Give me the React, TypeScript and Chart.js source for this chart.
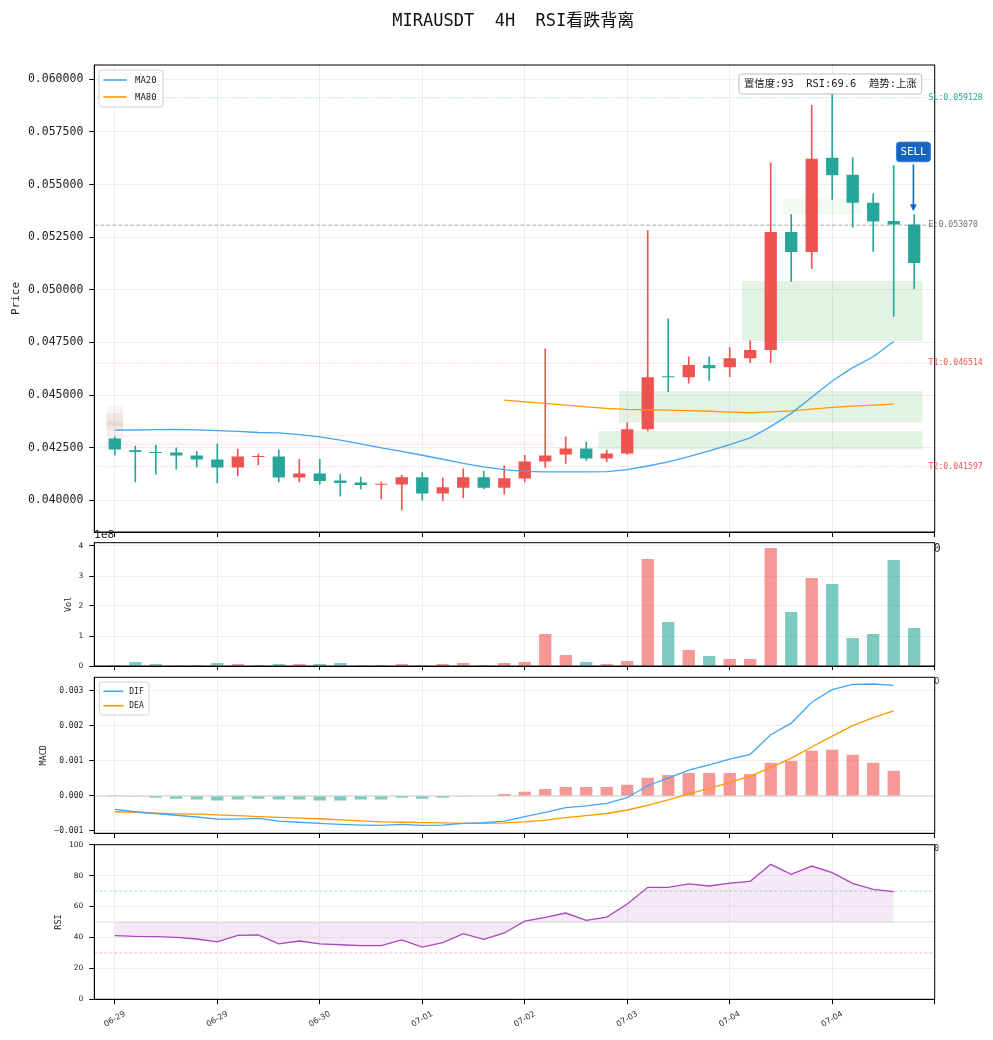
import React, { useEffect, useRef } from 'react';
import { Chart, registerables } from 'chart.js';

Chart.register(...registerables);

// ---------------- data ----------------
const TITLE = 'MIRAUSDT  4H  RSI看跌背离';
const INFO_TEXT = '置信度:93  RSI:69.6  趋势:上涨';
const SIGNAL_TEXT = 'SELL';

const X_TICKS = [0, 5, 10, 15, 20, 25, 30, 35, 40];
const X_LABELS = ['06-29', '06-29', '06-30', '07-01', '07-02', '07-03', '07-04', '07-04', ''];

const OPEN = [
  0.04294, 0.04238, 0.04229, 0.04227, 0.04213, 0.04194, 0.04156, 0.04206, 0.04208, 0.04108,
  0.04127, 0.04094, 0.04084, 0.04074, 0.04075, 0.0411, 0.04032, 0.0406, 0.0411, 0.0406,
  0.04103, 0.04184, 0.04218, 0.04246, 0.04199, 0.04222, 0.04337, 0.04585, 0.04584, 0.04643,
  0.04632, 0.04675, 0.04714, 0.05275, 0.05179, 0.05627, 0.05546, 0.05413, 0.05327, 0.0531,
];
const HIGH = [
  0.04301, 0.04257, 0.04262, 0.04249, 0.04233, 0.04267, 0.04243, 0.04219, 0.04238, 0.04195,
  0.04195, 0.04122, 0.0411, 0.04086, 0.04119, 0.04132, 0.04106, 0.04149, 0.04138, 0.04162,
  0.04214, 0.04719, 0.04301, 0.04276, 0.04238, 0.04368, 0.05281, 0.04862, 0.04682, 0.04682,
  0.04725, 0.04757, 0.05603, 0.05357, 0.05876, 0.0595, 0.05627, 0.05456, 0.0559, 0.05357,
];
const LOW = [
  0.04214, 0.04087, 0.04124, 0.04148, 0.04157, 0.04082, 0.04116, 0.04168, 0.04087, 0.04087,
  0.04076, 0.0402, 0.04054, 0.04006, 0.03954, 0.04001, 0.03997, 0.04011, 0.04054, 0.04029,
  0.04087, 0.04156, 0.04175, 0.0419, 0.04184, 0.04218, 0.04329, 0.04516, 0.04556, 0.04568,
  0.04587, 0.04654, 0.04654, 0.0504, 0.05101, 0.05429, 0.05297, 0.05182, 0.04873, 0.05005,
];
const CLOSE = [
  0.04241, 0.0423, 0.04225, 0.04213, 0.04194, 0.04156, 0.04208, 0.04208, 0.04108, 0.04127,
  0.04092, 0.04082, 0.04073, 0.04075, 0.0411, 0.04032, 0.04062, 0.0411, 0.0406, 0.04105,
  0.04184, 0.04213, 0.04246, 0.04199, 0.04222, 0.04337, 0.04584, 0.04584, 0.04643, 0.04627,
  0.04675, 0.04714, 0.05275, 0.05179, 0.05622, 0.05544, 0.05413, 0.05325, 0.0531, 0.05127,
];
const VOLUME = [
  3.3e6, 1.3e7, 6.7e6, 3.3e6, 3.3e6, 1.0e7, 6.7e6, 3.3e6, 6.7e6, 6.7e6,
  6.7e6, 1.0e7, 3.3e6, 3.3e6, 6.7e6, 3.3e6, 6.7e6, 1.0e7, 3.3e6, 1.0e7,
  1.3e7, 1.067e8, 3.67e7, 1.33e7, 6.7e6, 1.67e7, 3.567e8, 1.467e8, 5.33e7, 3.33e7,
  2.33e7, 2.33e7, 3.933e8, 1.8e8, 2.933e8, 2.733e8, 9.33e7, 1.067e8, 3.533e8, 1.267e8,
];
const MA20 = [
  0.04333, 0.04334, 0.04336, 0.04337, 0.04335, 0.04331, 0.04327, 0.04322, 0.0432, 0.04312,
  0.04301, 0.04286, 0.04268, 0.04249, 0.04232, 0.04214, 0.04195, 0.04175, 0.04159, 0.04146,
  0.04137, 0.04135, 0.04135, 0.04135, 0.04136, 0.04146, 0.04163, 0.04182, 0.04207, 0.04235,
  0.04265, 0.04297, 0.0435, 0.04413, 0.0449, 0.04567, 0.0463, 0.04682, 0.04754,
];
const MA80_START = 19;
const MA80 = [
  0.04476, 0.04468, 0.0446, 0.04452, 0.04444, 0.04437, 0.04432, 0.0443, 0.04428, 0.04426,
  0.04423, 0.04419, 0.04416, 0.0442, 0.04425, 0.04433, 0.04441, 0.04447, 0.04452, 0.04457,
];
const DIF = [
  -0.00038, -0.00045, -0.0005, -0.00055, -0.0006, -0.00066, -0.00066, -0.00064, -0.00072, -0.00075,
  -0.00078, -0.00081, -0.00083, -0.00084, -0.00081, -0.00084, -0.00083, -0.00078, -0.00076, -0.00072,
  -0.00059, -0.00047, -0.00033, -0.00028, -0.00021, -0.00005, 0.0003, 0.00051, 0.00074, 0.00089,
  0.00105, 0.00119, 0.00175, 0.00208, 0.00268, 0.00304, 0.00319, 0.0032, 0.00316,
];
const DEA = [
  -0.00045, -0.00047, -0.00049, -0.00051, -0.00052, -0.00054, -0.00056, -0.00059, -0.00061, -0.00063,
  -0.00065, -0.00068, -0.00071, -0.00074, -0.00075, -0.00076, -0.00077, -0.00078, -0.00078, -0.00077,
  -0.00074, -0.00069, -0.00062, -0.00056, -0.0005, -0.0004, -0.00027, -0.00011, 0.00006, 0.00022,
  0.00039, 0.00057, 0.00081, 0.00108, 0.0014, 0.00171, 0.00201, 0.00224, 0.00243,
];
const MACD_HIST = [
  0.00002, -0.00002, -0.00005, -0.00008, -0.0001, -0.00013, -0.0001, -0.00008, -0.0001, -0.0001,
  -0.00013, -0.00013, -0.0001, -0.0001, -0.00005, -0.00008, -0.00005, -0.00001, 0.0, 0.00006,
  0.00012, 0.0002, 0.00026, 0.00026, 0.00026, 0.00032, 0.00052, 0.0006, 0.00066, 0.00066,
  0.00066, 0.00063, 0.00095, 0.001, 0.00129, 0.00132, 0.00118, 0.00095, 0.00072,
];
const RSI = [
  41.2, 40.7, 40.5, 40.1, 39.0, 37.1, 41.4, 41.6, 35.8, 37.7,
  35.8, 35.3, 34.7, 34.7, 38.4, 33.8, 36.6, 42.5, 38.8, 42.9,
  50.6, 53.0, 55.8, 51.1, 53.2, 61.6, 72.4, 72.4, 74.6, 73.3,
  75.2, 76.3, 87.3, 80.8, 86.2, 81.9, 75.0, 71.1, 69.6,
];

const PRICE_TICKS = [0.04, 0.0425, 0.045, 0.0475, 0.05, 0.0525, 0.055, 0.0575, 0.06];
const VOL_TICKS = [0, 1e8, 2e8, 3e8, 4e8];
const MACD_TICKS = [-0.001, 0, 0.001, 0.002, 0.003];
const RSI_TICKS = [0, 20, 40, 60, 80, 100];

const LEVEL_NAMES = ['SL', 'E', 'T1', 'T2'];
const LEVEL_VALUES = [0.059128, 0.05307, 0.046514, 0.041597];

// zones: candle index range and price range
const ZONE_START = [31, 25, 24, 33, 0, 0, 0, 0, 0];
const ZONE_END = [39, 39, 39, 36, 21, 21, 0, 0, 0];
const ZONE_LO = [0.047568, 0.043686, 0.042423, 0.053587, 0.043021, 0.04258, 0.042546, 0.043292, 0.04353];
const ZONE_HI = [0.050418, 0.045192, 0.043292, 0.054313, 0.043126, 0.042784, 0.04448, 0.044147, 0.043734];
const ZONE_KIND = ['buy', 'buy', 'buy', 'buyWeak', 'sell', 'sell', 'sell', 'mid', 'mid'];

const SIGNAL_INDEX = 39;
const SIGNAL_TIP = 0.05373;
const SIGNAL_LABEL_Y = 0.05655;

// ---------------- styles ----------------
const MONO = "'DejaVu Sans Mono', 'Noto Sans CJK SC', monospace";
const SANS = "'DejaVu Sans', 'Noto Sans CJK SC', sans-serif";
const UP = '#ef5350';
const DOWN = '#26a69a';
const UP_A = 'rgba(239,83,80,0.6)';
const DOWN_A = 'rgba(38,166,154,0.6)';
const BLUE = '#42a5f5';
const ORANGE = '#ff9800';
const PURPLE = '#ab47bc';
const GRID = '#e8e8e8';
const W = 993;
const PLOT_L = 94.3;
const PLOT_R = 934.7;
const X_MIN = -1;
const X_MAX = 40;
const HALF = 0.4;

const ZONE_COLORS: Record<string, string> = {
  buy: 'rgba(76,175,80,0.16)',
  buyWeak: 'rgba(76,175,80,0.07)',
  sell: 'rgba(239,83,80,0.07)',
  mid: 'rgba(150,130,110,0.12)',
};
const LEVEL_LINE_COLORS = ['rgba(38,166,154,0.55)', '#a0a0a0', 'rgba(239,83,80,0.5)', 'rgba(239,83,80,0.5)'];
const LEVEL_TEXT_COLORS = ['#26a69a', '#707070', '#ef5350', '#ef5350'];
const LEVEL_DASH = [[1, 2], [4, 2], [1, 2], [1, 2]];

const idx = OPEN.map((_, i) => i);
const isUp = (i: number) => CLOSE[i] >= OPEN[i];

function zeroPad(s: any) {
  s.paddingTop = 0;
  s.paddingBottom = 0;
  s.paddingLeft = 0;
  s.paddingRight = 0;
}

function xAxis(height: number, labels: boolean): any {
  return {
    type: 'linear',
    min: X_MIN,
    max: X_MAX,
    bounds: 'data',
    offset: false,
    afterBuildTicks: (s: any) => {
      s.ticks = X_TICKS.map((v) => ({ value: v }));
    },
    afterFit: (s: any) => {
      s.height = height;
      zeroPad(s);
    },
    grid: { display: true, offset: false, color: GRID, lineWidth: 0.8, drawTicks: true, tickLength: 5, tickColor: '#000', tickWidth: 1 },
    border: { display: true, color: '#000', width: 1 },
    ticks: labels
      ? {
          display: true,
          autoSkip: false,
          minRotation: 30,
          maxRotation: 30,
          labelOffset: 10,
          padding: 5,
          font: { family: SANS, size: 8 },
          color: '#333',
          callback: (v: number) => {
            const k = X_TICKS.indexOf(v);
            return k >= 0 ? X_LABELS[k] : '';
          },
        }
      : { display: false },
  };
}

function yAxis(min: number, max: number, ticks: number[], fmt: (v: number) => string, tickFont: any, title: string, titleFont: any, titlePad: number): any {
  return {
    position: 'left',
    min,
    max,
    bounds: 'data',
    beginAtZero: false,
    afterBuildTicks: (s: any) => {
      s.ticks = ticks.map((v) => ({ value: v }));
    },
    afterFit: (s: any) => {
      s.width = PLOT_L;
      zeroPad(s);
    },
    grid: { color: GRID, lineWidth: 0.8, drawTicks: true, tickLength: 5, tickColor: '#000', tickWidth: 1 },
    border: { display: true, color: '#000', width: 1 },
    ticks: { autoSkip: false, padding: 6, font: tickFont, color: '#222', callback: fmt },
    title: { display: true, text: title, font: titleFont, color: '#222', padding: { top: titlePad, bottom: 0 } },
  };
}

function roundRect(ctx: CanvasRenderingContext2D, x: number, y: number, w: number, h: number, r: number) {
  ctx.beginPath();
  ctx.moveTo(x + r, y);
  ctx.arcTo(x + w, y, x + w, y + h, r);
  ctx.arcTo(x + w, y + h, x, y + h, r);
  ctx.arcTo(x, y + h, x, y, r);
  ctx.arcTo(x, y, x + w, y, r);
  ctx.closePath();
}

function drawFrame(chart: any) {
  const { ctx, chartArea: a } = chart;
  ctx.save();
  ctx.strokeStyle = '#000';
  ctx.lineWidth = 1;
  ctx.strokeRect(a.left, a.top, a.right - a.left, a.bottom - a.top);
  ctx.restore();
}

function drawLegend(chart: any, labels: string[], o: any) {
  const { ctx, chartArea: a } = chart;
  const items = chart.data.datasets.filter((d: any) => labels.includes(d.label));
  ctx.save();
  ctx.font = `${o.fs}px ${MONO}`;
  const tw = Math.max(...items.map((d: any) => ctx.measureText(d.label).width));
  const bx = a.left + o.dx;
  const by = a.top + o.dy;
  const bw = o.padL + o.lineLen + o.gap + tw + o.padR;
  const bh = o.padT * 2 + o.rowH * (items.length - 1);
  roundRect(ctx, bx, by, bw, bh, 2.5);
  ctx.fillStyle = 'rgba(255,255,255,0.85)';
  ctx.fill();
  ctx.strokeStyle = '#d0d0d0';
  ctx.lineWidth = 1;
  ctx.stroke();
  items.forEach((d: any, k: number) => {
    const ry = by + o.padT + k * o.rowH;
    ctx.strokeStyle = d.borderColor;
    ctx.lineWidth = 1.6;
    ctx.beginPath();
    ctx.moveTo(bx + o.padL, ry);
    ctx.lineTo(bx + o.padL + o.lineLen, ry);
    ctx.stroke();
    ctx.fillStyle = '#222';
    ctx.textBaseline = 'middle';
    ctx.textAlign = 'left';
    ctx.fillText(d.label, bx + o.padL + o.lineLen + o.gap, ry + 0.5);
  });
  ctx.restore();
}

const pricePlugin = {
  id: 'priceDeco',
  beforeDatasetsDraw(chart: any) {
    const { ctx, chartArea: a, scales } = chart;
    const x = scales.x;
    const y = scales.y;
    ctx.save();
    ctx.beginPath();
    ctx.rect(a.left, a.top, a.right - a.left, a.bottom - a.top);
    ctx.clip();
    ZONE_START.forEach((s, k) => {
      const x0 = x.getPixelForValue(s - HALF);
      const x1 = x.getPixelForValue(ZONE_END[k] + HALF);
      const y0 = y.getPixelForValue(ZONE_HI[k]);
      const y1 = y.getPixelForValue(ZONE_LO[k]);
      ctx.fillStyle = ZONE_COLORS[ZONE_KIND[k]];
      ctx.fillRect(x0, y0, x1 - x0, y1 - y0);
    });
    ctx.restore();
  },
  afterDraw(chart: any) {
    const { ctx, chartArea: a, scales } = chart;
    const x = scales.x;
    const y = scales.y;
    drawFrame(chart);
    drawLegend(chart, ['MA20', 'MA80'], { fs: 9, dx: 4.7, dy: 5, padL: 4.3, lineLen: 23.4, gap: 8.3, padR: 6.3, padT: 10, rowH: 17 });

    // title
    ctx.save();
    ctx.font = `17px ${MONO}`;
    ctx.fillStyle = '#111';
    ctx.textAlign = 'center';
    ctx.textBaseline = 'alphabetic';
    ctx.fillText(TITLE, 513.3, 26.3);
    ctx.restore();

    // info box
    ctx.save();
    ctx.font = `10.4px ${MONO}`;
    const tw = ctx.measureText(INFO_TEXT).width;
    const bw = tw + 10;
    const bx = a.right - 13 - bw;
    const by = a.top + 9;
    roundRect(ctx, bx, by, bw, 20, 3);
    ctx.fillStyle = 'rgba(255,255,255,0.92)';
    ctx.fill();
    ctx.strokeStyle = '#bdbdbd';
    ctx.lineWidth = 1;
    ctx.stroke();
    ctx.fillStyle = '#222';
    ctx.textAlign = 'left';
    ctx.textBaseline = 'middle';
    ctx.fillText(INFO_TEXT, bx + 5, by + 10.5);
    ctx.restore();

    // level labels
    ctx.save();
    ctx.font = `8.2px ${MONO}`;
    ctx.textAlign = 'left';
    ctx.textBaseline = 'middle';
    LEVEL_NAMES.forEach((n, k) => {
      ctx.fillStyle = LEVEL_TEXT_COLORS[k];
      ctx.fillText(`${n}:${LEVEL_VALUES[k].toFixed(6)}`, x.getPixelForValue(39.7), y.getPixelForValue(LEVEL_VALUES[k]));
    });
    ctx.restore();

    // SELL signal
    ctx.save();
    const sx = x.getPixelForValue(SIGNAL_INDEX) - 0.8;
    const sy = y.getPixelForValue(SIGNAL_LABEL_Y);
    const tipY = y.getPixelForValue(SIGNAL_TIP);
    ctx.font = `10.8px ${MONO}`;
    const stw = ctx.measureText(SIGNAL_TEXT).width;
    const sbw = stw + 8;
    roundRect(ctx, sx - sbw / 2, sy - 9.8, sbw, 19.6, 3);
    ctx.fillStyle = '#1565c0';
    ctx.fill();
    ctx.strokeStyle = '#3d7fd0';
    ctx.lineWidth = 1;
    ctx.stroke();
    ctx.fillStyle = '#fff';
    ctx.textAlign = 'center';
    ctx.textBaseline = 'middle';
    ctx.fillText(SIGNAL_TEXT, sx, sy + 0.5);
    ctx.strokeStyle = '#1565c0';
    ctx.lineWidth = 1.6;
    ctx.beginPath();
    ctx.moveTo(sx, sy + 12.5);
    ctx.lineTo(sx, tipY - 4);
    ctx.stroke();
    ctx.fillStyle = '#1565c0';
    ctx.beginPath();
    ctx.moveTo(sx, tipY);
    ctx.lineTo(sx - 3.4, tipY - 7);
    ctx.lineTo(sx + 3.4, tipY - 7);
    ctx.closePath();
    ctx.fill();
    ctx.restore();
  },
};

const volPlugin = {
  id: 'volDeco',
  afterDraw(chart: any) {
    const { ctx, chartArea: a } = chart;
    drawFrame(chart);
    ctx.save();
    ctx.fillStyle = '#222';
    ctx.textAlign = 'left';
    ctx.textBaseline = 'alphabetic';
    ctx.font = `10.5px ${SANS}`;
    ctx.fillText('1e8', a.left, a.top - 5.2);
    ctx.font = `11.5px ${MONO}`;
    ctx.fillText('0', a.right - 1, a.top + 9);
    ctx.restore();
  },
};

const macdPlugin = {
  id: 'macdDeco',
  afterDraw(chart: any) {
    const { ctx, chartArea: a } = chart;
    drawFrame(chart);
    drawLegend(chart, ['DIF', 'DEA'], { fs: 8, dx: 5, dy: 4.7, padL: 4, lineLen: 20, gap: 6, padR: 5.3, padT: 9.3, rowH: 14.4 });
    ctx.save();
    ctx.fillStyle = '#333';
    ctx.textAlign = 'left';
    ctx.textBaseline = 'alphabetic';
    ctx.font = `8px ${SANS}`;
    ctx.fillText('0', a.right - 0.5, a.top + 6.5);
    ctx.restore();
  },
};

const rsiPlugin = {
  id: 'rsiDeco',
  afterDraw(chart: any) {
    const { ctx, chartArea: a } = chart;
    drawFrame(chart);
    ctx.save();
    ctx.fillStyle = '#333';
    ctx.textAlign = 'left';
    ctx.textBaseline = 'alphabetic';
    ctx.font = `8px ${MONO}`;
    ctx.fillText('0', a.right - 0.5, a.top + 6);
    ctx.restore();
  },
};

const baseOptions = (padTop: number) => ({
  animation: false,
  responsive: false,
  events: [],
  layout: { padding: { top: padTop, right: W - PLOT_R, bottom: 0, left: 0 } },
  plugins: { legend: { display: false }, tooltip: { enabled: false }, title: { display: false } },
});

function hline(value: number, color: string, dash: number[], width: number): any {
  return {
    type: 'line',
    data: [
      { x: X_MIN, y: value },
      { x: X_MAX, y: value },
    ],
    borderColor: color,
    borderDash: dash,
    borderWidth: width,
    pointRadius: 0,
    fill: false,
  };
}

function priceConfig(): any {
  const colors = idx.map((i) => (isUp(i) ? UP : DOWN));
  return {
    type: 'bar',
    data: {
      datasets: [
        { type: 'line', label: 'MA20', data: MA20.map((v, i) => ({ x: i, y: v })), borderColor: BLUE, borderWidth: 1.3, pointRadius: 0, tension: 0, fill: false },
        { type: 'line', label: 'MA80', data: MA80.map((v, k) => ({ x: MA80_START + k, y: v })), borderColor: ORANGE, borderWidth: 1.3, pointRadius: 0, tension: 0, fill: false },
        {
          type: 'bar',
          label: 'body',
          data: idx.map((i) => ({ x: i, y: [OPEN[i], CLOSE[i]] })),
          backgroundColor: colors,
          barPercentage: 0.6,
          categoryPercentage: 1,
          grouped: false,
          minBarLength: 1,
        },
        {
          type: 'bar',
          label: 'wick',
          data: idx.map((i) => ({ x: i, y: [LOW[i], HIGH[i]] })),
          backgroundColor: colors,
          barThickness: 1,
          grouped: false,
        },
        ...LEVEL_VALUES.map((v, k) => hline(v, LEVEL_LINE_COLORS[k], LEVEL_DASH[k], 0.9)),
      ],
    },
    options: {
      ...baseOptions(65),
      scales: {
        x: xAxis(8, false),
        y: yAxis(0.038494, 0.060679, PRICE_TICKS, (v) => Number(v).toFixed(6), { family: MONO, size: 11.5 }, 'Price', { family: MONO, size: 11 }, 9.6),
      },
    },
    plugins: [pricePlugin],
  };
}

function volConfig(): any {
  return {
    type: 'bar',
    data: {
      datasets: [
        {
          type: 'bar',
          label: 'Vol',
          data: VOLUME.map((v, i) => ({ x: i, y: v })),
          backgroundColor: idx.map((i) => (isUp(i) ? UP_A : DOWN_A)),
          barPercentage: 0.6,
          categoryPercentage: 1,
          grouped: false,
        },
      ],
    },
    options: {
      ...baseOptions(17.7),
      scales: {
        x: xAxis(4, false),
        y: yAxis(0, 4.11e8, VOL_TICKS, (v) => String(Math.round(Number(v) / 1e8)), { family: SANS, size: 7.5 }, 'Vol', { family: MONO, size: 8.5 }, 63.4),
      },
    },
    plugins: [volPlugin],
  };
}

function macdConfig(): any {
  return {
    type: 'bar',
    data: {
      datasets: [
        { type: 'line', label: 'DIF', data: DIF.map((v, i) => ({ x: i, y: v })), borderColor: BLUE, borderWidth: 1.3, pointRadius: 0, tension: 0, fill: false },
        { type: 'line', label: 'DEA', data: DEA.map((v, i) => ({ x: i, y: v })), borderColor: ORANGE, borderWidth: 1.3, pointRadius: 0, tension: 0, fill: false },
        {
          type: 'bar',
          label: 'HIST',
          data: MACD_HIST.map((v, i) => ({ x: i, y: v })),
          backgroundColor: MACD_HIST.map((v) => (v >= 0 ? UP_A : DOWN_A)),
          barPercentage: 0.6,
          categoryPercentage: 1,
          grouped: false,
        },
        hline(0, '#e2e2e2', [], 2),
      ],
    },
    options: {
      ...baseOptions(7.3),
      scales: {
        x: xAxis(4.7, false),
        y: yAxis(
          -0.001066,
          0.003391,
          MACD_TICKS,
          (v) => {
            const n = Number(v);
            return n < 0 ? '\u2212' + (-n).toFixed(3) : n.toFixed(3);
          },
          { family: MONO, size: 8 },
          'MACD',
          { family: MONO, size: 8.5 },
          38.4,
        ),
      },
    },
    plugins: [macdPlugin],
  };
}

function rsiConfig(): any {
  return {
    type: 'line',
    data: {
      datasets: [
        {
          label: 'RSI',
          data: RSI.map((v, i) => ({ x: i, y: v })),
          borderColor: PURPLE,
          borderWidth: 1.3,
          pointRadius: 0,
          tension: 0,
          fill: { value: 50 },
          backgroundColor: 'rgba(171,71,188,0.12)',
        },
        hline(70, 'rgba(38,166,154,0.5)', [3, 2], 0.8),
        hline(30, 'rgba(239,83,80,0.5)', [3, 2], 0.8),
        hline(50, '#ececec', [], 2),
      ],
    },
    options: {
      ...baseOptions(6.7),
      scales: {
        x: xAxis(40.7, true),
        y: yAxis(0, 100, RSI_TICKS, (v) => String(v), { family: SANS, size: 7.5 }, 'RSI', { family: MONO, size: 8.5 }, 53.4),
      },
    },
    plugins: [rsiPlugin],
  };
}

const PANELS = [
  { top: 0, height: 540, make: priceConfig },
  { top: 525, height: 145, make: volConfig },
  { top: 670, height: 168, make: macdConfig },
  { top: 838, height: 202, make: rsiConfig },
];

export default function App() {
  const refs = [useRef<HTMLCanvasElement>(null), useRef<HTMLCanvasElement>(null), useRef<HTMLCanvasElement>(null), useRef<HTMLCanvasElement>(null)];
  useEffect(() => {
    const charts = PANELS.map((p, k) => new Chart(refs[k].current as HTMLCanvasElement, p.make()));
    return () => charts.forEach((c) => c.destroy());
  }, []);
  return (
    <div style={{ position: 'absolute', left: 0, top: 0, width: W, height: 1040, background: '#fff', overflow: 'hidden' }}>
      {PANELS.map((p, k) => (
        <canvas
          key={k}
          ref={refs[k]}
          width={W}
          height={p.height}
          style={{ position: 'absolute', left: 0, top: p.top, width: W, height: p.height }}
        />
      ))}
    </div>
  );
}
